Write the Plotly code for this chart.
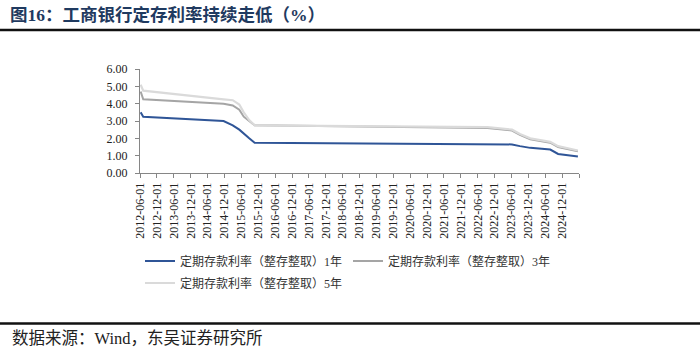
import plotly.graph_objects as go

dates = ["2012-06-08", "2012-07-06", "2014-11-22", "2015-03-01", "2015-05-11",
         "2015-06-28", "2015-08-26", "2015-10-24", "2022-09-15", "2023-06-08",
         "2023-09-01", "2023-12-22", "2024-07-25", "2024-10-18", "2025-05-20"]
rate_1y = [3.50, 3.25, 3.00, 2.75, 2.50, 2.25, 2.00, 1.75, 1.65, 1.65, 1.55, 1.45, 1.35, 1.10, 0.95]
rate_3y = [4.70, 4.25, 4.00, 3.90, 3.65, 3.25, 3.00, 2.75, 2.60, 2.45, 2.20, 1.95, 1.75, 1.50, 1.25]
rate_5y = [5.10, 4.75, 4.25, 4.20, 3.95, 3.50, 3.05, 2.75, 2.65, 2.50, 2.25, 2.00, 1.80, 1.55, 1.30]

names = ["定期存款利率（整存整取）1年", "定期存款利率（整存整取）3年", "定期存款利率（整存整取）5年"]

tick_vals = []
tick_text = []
for y in range(2012, 2026):
    for m in (6, 12):
        if y == 2012 and m < 6:
            continue
        if y == 2025 and m > 6:
            continue
        tick_vals.append(f"{y}-{m:02d}-01")
        tick_text.append(f"{y}-{m:02d}-01" if not (y == 2025) else "")

title_text = "<b>图16：工商银行定存利率持续走低（%）</b>"
source_text = "数据来源：Wind，东吴证券研究所"

W, H = 700, 354
L, R, T, B = 140, 121, 69, 181
pw, ph = W - L - R, H - T - B

def px(x):
    return (x - L) / pw

def py(y):
    return (H - B - y) / ph

serif = "Liberation Serif, 'Noto Sans CJK SC', serif"

fig = go.Figure()
fig.add_trace(go.Scatter(x=dates, y=rate_1y, mode="lines", name=names[0],
                         line=dict(color="#2F5597", width=2), legend="legend"))
fig.add_trace(go.Scatter(x=dates, y=rate_3y, mode="lines", name=names[1],
                         line=dict(color="#A5A5A5", width=2), legend="legend2"))
fig.add_trace(go.Scatter(x=dates, y=rate_5y, mode="lines", name=names[2],
                         line=dict(color="#DADADA", width=2.2), legend="legend3"))

leg_common = dict(bgcolor="rgba(0,0,0,0)", font=dict(family=serif, size=12, color="#333333"),
                  xanchor="left", yanchor="middle", orientation="h")

fig.update_layout(
    width=W, height=H,
    margin=dict(l=L, r=R, t=T, b=B),
    paper_bgcolor="white", plot_bgcolor="white",
    showlegend=True,
    legend=dict(x=px(140), y=py(261), **leg_common),
    legend2=dict(x=px(348), y=py(261), **leg_common),
    legend3=dict(x=px(140), y=py(283), **leg_common),
    xaxis=dict(type="date", range=["2012-06-01", "2025-06-01"],
               tickmode="array", tickvals=tick_vals, ticktext=tick_text,
               tickangle=-90, ticks="outside", ticklen=4, tickcolor="#868686",
               showline=True, linecolor="#868686", linewidth=1, showgrid=False,
               zeroline=False, tickfont=dict(family=serif, size=12, color="#222222")),
    yaxis=dict(range=[0, 6], dtick=1, tickformat=".2f", ticks="outside", ticklen=4,
               tickcolor="#868686", showline=True, linecolor="#868686", linewidth=1,
               showgrid=False, zeroline=False, ticklabelstandoff=5,
               tickfont=dict(family=serif, size=12, color="#222222")),
    annotations=[
        dict(text=title_text, xref="paper", yref="paper", x=px(8), y=py(15),
             xanchor="left", yanchor="middle", showarrow=False,
             font=dict(family=serif, size=17.5, color="#1F3A60")),
        dict(text=source_text, xref="paper", yref="paper", x=px(10), y=py(338),
             xanchor="left", yanchor="middle", showarrow=False,
             font=dict(family=serif, size=16.5, color="#222222")),
    ],
    shapes=[
        dict(type="line", xref="paper", yref="paper", x0=px(0), x1=px(700),
             y0=py(30), y1=py(30), line=dict(color="#111111", width=2.5)),
        dict(type="line", xref="paper", yref="paper", x0=px(0), x1=px(700),
             y0=py(323.5), y1=py(323.5), line=dict(color="#111111", width=2.5)),
    ],
)

fig.write_html("out.html")
